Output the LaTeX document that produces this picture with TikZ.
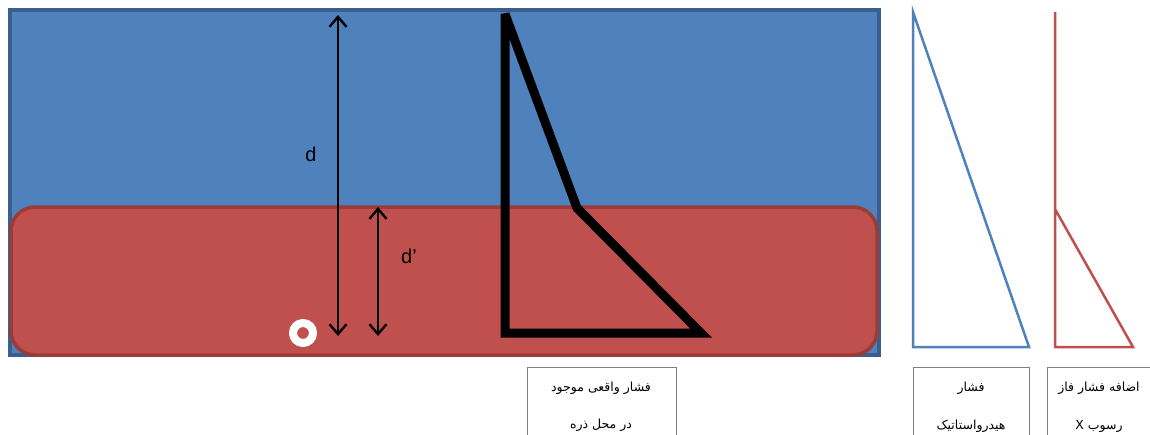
\documentclass[tikz,border=0pt]{standalone}
\usepackage{fontspec}
\setmainfont{Liberation Sans}
\newfontfamily\persfont[Script=Arabic]{DejaVu Sans}
\TeXXeTstate=1
\usetikzlibrary{arrows.meta}
\definecolor{seablue}{HTML}{4F81BD}
\definecolor{seaedge}{HTML}{3A5F8E}
\definecolor{mudred}{HTML}{C0504D}
\definecolor{mudedge}{HTML}{9A3B38}
\definecolor{boxgray}{HTML}{808080}

\begin{document}
\begin{tikzpicture}[x=1pt,y=-1pt,
  dimarrow/.style={<->,>={Straight Barb[length=10pt,width=17pt,line width=2.4pt]},line width=2.2pt},
  labelbox/.style={draw=boxgray,line width=0.9pt,minimum width=#1,minimum height=90,anchor=north west,inner sep=0pt},
  fatext/.style={font=\persfont\fontsize{12.5}{15}\selectfont,inner sep=0pt}]
\clip (0,0) rectangle (1150,434);

% water column and sediment layer
\draw[fill=seablue,draw=seaedge,line width=3.5pt] (10,10) rectangle (879,355);
\draw[fill=mudred,draw=mudedge,line width=3.5pt,rounded corners=24pt] (11,207) rectangle (877,355);

% particle
\node[circle,draw=white,line width=8pt,fill=mudred,minimum size=20pt,inner sep=0pt] (grain) at (303,333) {};

% depth arrows
\coordinate (dtop) at (338,15);
\coordinate (dbot) at (338,336);
\coordinate (dptop) at (378,207);
\coordinate (dpbot) at (378,336);
\draw[dimarrow] (dtop) -- (dbot);
\draw[dimarrow] (dptop) -- (dpbot);
\node[font=\fontsize{20}{24}\selectfont] (dlab) at (311,154) {d};
\node[font=\fontsize{20}{24}\selectfont] (dplab) at (409,256) {d'};

% actual pressure profile
\coordinate (A1) at (505,14);
\coordinate (A2) at (577,208);
\coordinate (A3) at (701,333);
\coordinate (A4) at (505,333);
\draw[line width=9pt,line join=miter,miter limit=3] (A1) -- (A2) -- (A3) -- (A4) -- cycle;

% hydrostatic pressure
\coordinate (H1) at (913,12);
\coordinate (H2) at (1029,347);
\coordinate (H3) at (913,347);
\draw[seablue,line width=2.5pt] (H1) -- (H2) -- (H3) -- cycle;

% excess pressure of settling phase
\coordinate (R1) at (1055,12);
\coordinate (R2) at (1055,209);
\coordinate (R3) at (1055,347);
\coordinate (R4) at (1133,347);
\draw[mudred,line width=2.5pt] (R1) -- (R3) -- (R4) -- (R2);

% captions
\node[labelbox=149] (realbox) at (527,367) {};
\node[labelbox=116] (hydrobox) at (913,367) {};
\node[labelbox=120] (excessbox) at (1047,367) {};

\node[fatext] (real1) at (601,388) {\beginR فشار واقعی موجود\endR};
\node[fatext] (real2) at (601,425) {\beginR در محل ذره\endR};
\node[fatext] (hydro1) at (971,388) {\beginR فشار\endR};
\node[fatext] (hydro2) at (971,426) {\beginR هیدرواستاتیک\endR};
\node[fatext] (excess1) at (1099,388) {\beginR اضافه فشار فاز\endR};
\node[fatext] (excess2) at (1099,426) {\beginR رسوب X\endR};
\end{tikzpicture}
\end{document}
